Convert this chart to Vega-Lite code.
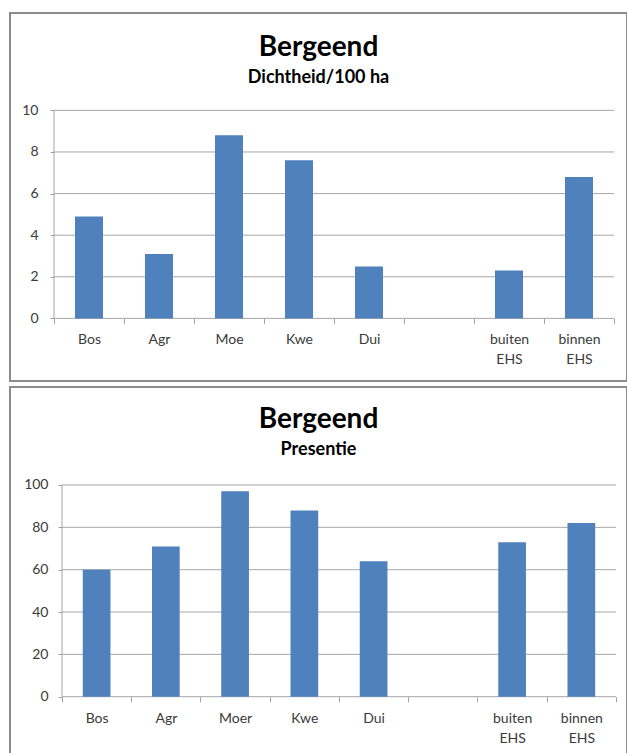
{
  "$schema": "https://vega.github.io/schema/vega-lite/v6.json",
  "background": "white",
  "padding": {"left": 9, "top": 12, "right": 0, "bottom": 0},
  "spacing": 4,
  "datasets": {
    "dichtheid": [
      {"cat": "Bos", "val": 4.9},
      {"cat": "Agr", "val": 3.1},
      {"cat": "Moe", "val": 8.8},
      {"cat": "Kwe", "val": 7.6},
      {"cat": "Dui", "val": 2.5},
      {"cat": "buiten EHS", "val": 2.3},
      {"cat": "binnen EHS", "val": 6.8}
    ],
    "presentie": [
      {"cat": "Bos", "val": 60},
      {"cat": "Agr", "val": 71},
      {"cat": "Moer", "val": 97},
      {"cat": "Kwe", "val": 88},
      {"cat": "Dui", "val": 64},
      {"cat": "buiten EHS", "val": 73},
      {"cat": "binnen EHS", "val": 82}
    ],
    "gridDichtheid": [{"v": 0}, {"v": 2}, {"v": 4}, {"v": 6}, {"v": 8}, {"v": 10}],
    "gridPresentie": [{"v": 0}, {"v": 20}, {"v": 40}, {"v": 60}, {"v": 80}, {"v": 100}],
    "axisDichtheid": [{"lo": 0, "hi": 10}],
    "axisPresentie": [{"lo": 0, "hi": 100}]
  },
  "config": {
    "view": {"stroke": "#8c8c8c", "strokeWidth": 2},
    "axis": {
      "labelFont": "Lato",
      "labelFontSize": 14,
      "labelColor": "#3a3a3a",
      "tickColor": "#a0a0a0",
      "domain": false,
      "grid": false
    },
    "title": {
      "font": "Lato",
      "fontSize": 28,
      "fontWeight": "bold",
      "color": "#000000",
      "subtitleFont": "Lato",
      "subtitleFontSize": 18,
      "subtitleFontWeight": "bold",
      "subtitleColor": "#000000",
      "subtitlePadding": 7,
      "anchor": "middle",
      "frame": "group"
    }
  },
  "resolve": {"scale": {"x": "independent", "y": "independent"}},
  "vconcat": [
    {
      "width": 617,
      "height": 368,
      "title": {"text": "Bergeend", "subtitle": "Dichtheid/100 ha", "offset": -74},
      "layer": [
        {
          "data": {"name": "gridDichtheid"},
          "mark": {"type": "rule", "color": "#a6a6a6", "strokeWidth": 1},
          "encoding": {
            "x": {"datum": "Bos", "bandPosition": 0, "type": "nominal",
                  "scale": {"type": "band", "domain": ["Bos", "Agr", "Moe", "Kwe", "Dui", "", "buiten EHS", "binnen EHS"], "paddingInner": 0, "paddingOuter": 0.407, "align": 0.772}},
            "x2": {"datum": "binnen EHS", "bandPosition": 1},
            "y": {"field": "v", "type": "quantitative",
                  "scale": {"domain": [-3.01, 14.68], "nice": false, "zero": false}}
          }
        },
        {
          "data": {"name": "axisDichtheid"},
          "mark": {"type": "rule", "color": "#a6a6a6", "strokeWidth": 1},
          "encoding": {
            "x": {"datum": "Bos", "bandPosition": 0, "type": "nominal",
                  "scale": {"type": "band", "domain": ["Bos", "Agr", "Moe", "Kwe", "Dui", "", "buiten EHS", "binnen EHS"], "paddingInner": 0, "paddingOuter": 0.407, "align": 0.772}},
            "y": {"field": "lo", "type": "quantitative",
                  "scale": {"domain": [-3.01, 14.68], "nice": false, "zero": false}},
            "y2": {"field": "hi"}
          }
        },
        {
          "data": {"name": "dichtheid"},
          "mark": {"type": "bar", "color": "#4F81BD", "width": {"band": 0.4}},
          "encoding": {
            "x": {"field": "cat", "type": "nominal", "sort": null, "title": null,
                  "scale": {"type": "band", "domain": ["Bos", "Agr", "Moe", "Kwe", "Dui", "", "buiten EHS", "binnen EHS"], "paddingInner": 0, "paddingOuter": 0.407, "align": 0.772},
                  "axis": {"offset": -62.7, "tickBand": "extent", "tickSize": 5, "labelPadding": 16, "labelAngle": 0, "labelAlign": "center", "labelOverlap": false, "labelExpr": "split(datum.label, ' ')", "labelLineHeight": 20}},
            "y": {"field": "val", "type": "quantitative", "title": null,
                  "scale": {"domain": [-3.01, 14.68], "nice": false, "zero": false},
                  "axis": {"values": [0, 2, 4, 6, 8, 10], "offset": -44, "tickSize": 4, "labelPadding": 12}},
            "y2": {"datum": 0}
          }
        }
      ]
    },
    {
      "width": 617,
      "height": 372,
      "title": {"text": "Bergeend", "subtitle": "Presentie", "offset": -72},
      "layer": [
        {
          "data": {"name": "gridPresentie"},
          "mark": {"type": "rule", "color": "#a6a6a6", "strokeWidth": 1},
          "encoding": {
            "x": {"datum": "Bos", "bandPosition": 0, "type": "nominal",
                  "scale": {"type": "band", "domain": ["Bos", "Agr", "Moer", "Kwe", "Dui", "", "buiten EHS", "binnen EHS"], "paddingInner": 0, "paddingOuter": 0.455, "align": 0.825}},
            "x2": {"datum": "binnen EHS", "bandPosition": 1},
            "y": {"field": "v", "type": "quantitative",
                  "scale": {"domain": [-29.43, 146.29], "nice": false, "zero": false}}
          }
        },
        {
          "data": {"name": "axisPresentie"},
          "mark": {"type": "rule", "color": "#a6a6a6", "strokeWidth": 1},
          "encoding": {
            "x": {"datum": "Bos", "bandPosition": 0, "type": "nominal",
                  "scale": {"type": "band", "domain": ["Bos", "Agr", "Moer", "Kwe", "Dui", "", "buiten EHS", "binnen EHS"], "paddingInner": 0, "paddingOuter": 0.455, "align": 0.825}},
            "y": {"field": "lo", "type": "quantitative",
                  "scale": {"domain": [-29.43, 146.29], "nice": false, "zero": false}},
            "y2": {"field": "hi"}
          }
        },
        {
          "data": {"name": "presentie"},
          "mark": {"type": "bar", "color": "#4F81BD", "width": {"band": 0.4}},
          "encoding": {
            "x": {"field": "cat", "type": "nominal", "sort": null, "title": null,
                  "scale": {"type": "band", "domain": ["Bos", "Agr", "Moer", "Kwe", "Dui", "", "buiten EHS", "binnen EHS"], "paddingInner": 0, "paddingOuter": 0.455, "align": 0.825},
                  "axis": {"offset": -62.3, "tickBand": "extent", "tickSize": 5, "labelPadding": 17, "labelAngle": 0, "labelAlign": "center", "labelOverlap": false, "labelExpr": "split(datum.label, ' ')", "labelLineHeight": 20}},
            "y": {"field": "val", "type": "quantitative", "title": null,
                  "scale": {"domain": [-29.43, 146.29], "nice": false, "zero": false},
                  "axis": {"values": [0, 20, 40, 60, 80, 100], "offset": -52, "tickSize": 4, "labelPadding": 10}},
            "y2": {"datum": 0}
          }
        }
      ]
    }
  ]
}
